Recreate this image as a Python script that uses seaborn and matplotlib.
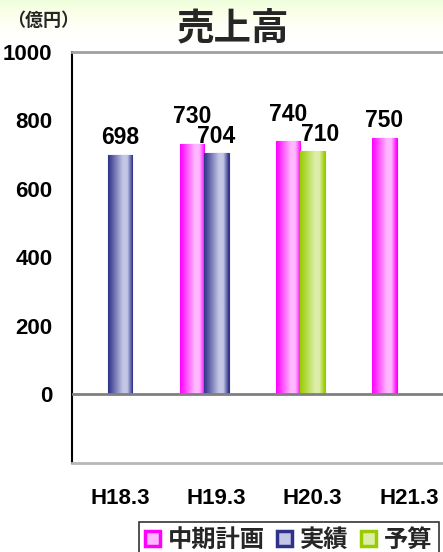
import numpy as np
import matplotlib
matplotlib.use("Agg")
import matplotlib.pyplot as plt
from matplotlib.colors import LinearSegmentedColormap
from matplotlib.patches import Patch
import seaborn as sns

# ---- data ----
categories = ["H18.3", "H19.3", "H20.3", "H21.3"]
plan = [np.nan, 730, 740, 750]        # 中期計画
actual = [698, 704, np.nan, np.nan]   # 実績
budget = [np.nan, np.nan, 710, np.nan]  # 予算
series_names = ["中期計画", "実績", "予算"]
yticks = [0, 200, 400, 600, 800, 1000]

sns.set_theme(style="white")
plt.rcParams["font.family"] = ["Noto Sans CJK JP", "DejaVu Sans"]
plt.rcParams["font.weight"] = "bold"
NUMFONT = ["Liberation Sans", "DejaVu Sans"]

W, H = 443, 552
fig = plt.figure(figsize=(W / 100, H / 100), dpi=100)
fig.patch.set_facecolor("white")

# top background gradient
bg = fig.add_axes([0, 1 - 40 / H, 1, 40 / H], zorder=-5)
bgcm = LinearSegmentedColormap.from_list("bg", ["#EEFFDD", "#FBFFE8", "#FFFFF8", "#FFFFFF"])
bg.imshow(np.linspace(0, 1, 100).reshape(-1, 1), cmap=bgcm, aspect="auto", extent=(0, 1, 0, 1))
bg.axis("off")

ax = fig.add_axes([72 / W, 1 - 463 / H, (457 - 72) / W, (463 - 52) / H])
ax.set_facecolor("white")

x = np.arange(len(categories))
w = 0.255
cols = {
    "中期計画": ("#FF00FF", "#FFB8FF"),
    "実績": ("#2E3288", "#C4C6E6"),
    "予算": ("#99CC00", "#DCEEA8"),
}

def grad_bars(xpos, vals, name):
    dark, light = cols[name]
    cm = LinearSegmentedColormap.from_list(name, [(0, dark), (0.6, light), (0.78, light), (1.0, dark)])
    bars = ax.bar(xpos, vals, width=w, color=light, edgecolor=dark, linewidth=0.8, zorder=3)
    g = np.linspace(0, 1, 64).reshape(1, -1)
    for b in bars:
        h = b.get_height()
        if not np.isfinite(h):
            continue
        im = ax.imshow(g, cmap=cm, aspect="auto",
                       extent=(b.get_x(), b.get_x() + b.get_width(), 0, h), zorder=3.5)
        im.set_clip_path(b)
    return bars

bp = grad_bars(x - w, plan, "中期計画")
ba = grad_bars(x, actual, "実績")
bb = grad_bars(x, budget, "予算")

ax.set_xlim(-0.5, 3.5)
ax.set_ylim(-200, 1000)

# value labels (offset in points above each bar)
lab_fs = 16.5
def label(xpos, vals, offs, dx=0.0):
    for xi, v, o in zip(xpos, vals, offs):
        if np.isfinite(v):
            ax.annotate(f"{int(v)}", (xi + dx, v), xytext=(0, o), textcoords="offset points",
                        ha="center", va="center", fontsize=lab_fs, fontweight="bold",
                        family=NUMFONT, color="black", zorder=6)

label(x - w, plan, [0, 20, 19, 12])
label(x, actual, [13, 12.5, 0, 0])
label(x, budget, [0, 0, 12, 0], dx=0.08)

ax.axhline(0, color="#808080", lw=2, zorder=4)

ax.set_yticks([-200] + yticks)
ax.set_yticklabels([""] + [str(t) for t in yticks])
ax.set_xticks(x)
ax.set_xticklabels(categories)
ax.tick_params(axis="y", direction="in", length=6, width=1, color="#808080",
               pad=14, labelsize=16, labelcolor="black")
ax.tick_params(axis="x", length=0, pad=18, labelsize=16, labelcolor="black")
for t in ax.get_xticklabels() + ax.get_yticklabels():
    t.set_fontweight("bold")
    t.set_family(NUMFONT)

ax.spines["left"].set_color("black")
ax.spines["left"].set_linewidth(1.5)
ax.spines["top"].set_color("#A0A0A0")
ax.spines["top"].set_linewidth(2)
ax.spines["bottom"].set_color("#B8B8B8")
ax.spines["bottom"].set_linewidth(2)
ax.spines["right"].set_visible(False)

fig.text(233 / W, 1 - 28 / H, "売上高", ha="center", va="center", fontsize=27, fontweight="bold")
fig.text(7 / W, 1 - 20 / H, "（億円）", ha="left", va="center", fontsize=13, fontweight="bold")

handles = [Patch(facecolor=cols[n][1], edgecolor=cols[n][0], linewidth=2.5) for n in series_names]
leg = fig.legend(handles, series_names, loc="upper left", bbox_to_anchor=(139 / W, 1 - 522 / H),
                 bbox_transform=fig.transFigure, ncol=3, frameon=True, fancybox=False,
                 borderaxespad=0, prop={"size": 17.5, "weight": "bold"},
                 handlelength=0.6, handleheight=0.6, handletextpad=0.35, columnspacing=0.5,
                 borderpad=0.25)
leg.get_frame().set_edgecolor("black")
leg.get_frame().set_linewidth(1.2)

fig.savefig("out.png", dpi=100)
